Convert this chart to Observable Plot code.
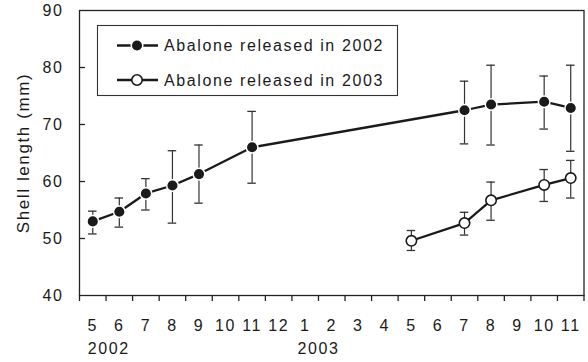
<!DOCTYPE html>
<html>
<head>
<meta charset="utf-8">
<script src="https://cdn.jsdelivr.net/npm/d3@7"></script>
<script src="https://cdn.jsdelivr.net/npm/@observablehq/plot@0.6"></script>
<style>
  body { margin: 0; background: #fff; }
  #chart svg { display: block; }
</style>
</head>
<body>
<div id="chart"></div>
<script>
// Month tick labels, May 2002 through November 2003
const monthLabels = ["5","6","7","8","9","10","11","12","1","2","3","4","5","6","7","8","9","10","11"];
const yearLabels = ["2002", "2003"];
const seriesNames = ["Abalone released in 2002", "Abalone released in 2003"];

// Abalone released in 2002: sampling dates, mean shell length and error bar ends (mm)
const dates2002 = ["2002-05","2002-06","2002-07","2002-08","2002-09","2002-11","2003-07","2003-08","2003-10","2003-11"];
const mean2002  = [53.0, 54.7, 57.9, 59.3, 61.3, 66.0, 72.5, 73.5, 74.0, 72.9];
const upper2002 = [54.8, 57.1, 60.5, 65.4, 66.4, 72.3, 77.6, 80.4, 78.5, 80.4];
const lower2002 = [50.8, 52.0, 55.0, 52.7, 56.2, 59.7, 66.6, 66.4, 69.2, 65.3];

// Abalone released in 2003
const dates2003 = ["2003-05","2003-07","2003-08","2003-10","2003-11"];
const mean2003  = [49.6, 52.7, 56.7, 59.4, 60.6];
const upper2003 = [51.4, 54.6, 59.9, 62.1, 63.7];
const lower2003 = [47.9, 50.6, 53.2, 56.5, 57.1];

// Month index counted from May 2002 (= 0)
const monthIndex = s => {
  const [y, m] = s.split("-").map(Number);
  return (y - 2002) * 12 + (m - 5);
};

const toRows = (dates, mean, upper, lower) =>
  dates.map((d, i) => ({m: monthIndex(d), mean: mean[i], hi: upper[i], lo: lower[i]}));

const rows2002 = toRows(dates2002, mean2002, upper2002, lower2002);
const rows2003 = toRows(dates2003, mean2003, upper2003, lower2003);
const allRows = rows2002.concat(rows2003);

const W = 588, H = 362, mL = 79, mR = 4.5, mT = 10, mB = 67;
const innerW = W - mL - mR;
const monthCenters = d3.range(monthLabels.length);
const monthBounds = d3.range(-0.5, monthLabels.length, 1);
const capHalf = 0.16;
const ink = "#1a1a1a";
const font = "'Liberation Sans', Arial, Helvetica, sans-serif";

const chart = Plot.plot({
  width: W,
  height: H,
  marginLeft: mL,
  marginRight: mR,
  marginTop: mT,
  marginBottom: mB,
  style: {fontFamily: font, letterSpacing: "1.6px", color: ink, background: "#fff"},
  x: {domain: [-0.5, monthLabels.length - 0.5], label: null},
  y: {domain: [40, 90], label: null},
  marks: [
    Plot.frame({stroke: "#222", strokeWidth: 1.3}),
    // outward tick marks on the month boundaries
    Plot.axisX({ticks: monthBounds, tickSize: 6, tickFormat: () => "", label: null, stroke: "#222", strokeWidth: 1.3}),
    // month labels centred in each month
    Plot.axisX({ticks: monthCenters, tickSize: 0, tickPadding: 24, tickFormat: i => monthLabels[i], label: null, fontSize: 16, fill: ink}),
    // year labels
    Plot.text([yearLabels[0]], {x: monthIndex("2002-05"), frameAnchor: "bottom", lineAnchor: "top", textAnchor: "start", dx: -5, dy: 47, fontSize: 16, fill: ink}),
    Plot.text([yearLabels[1]], {x: monthIndex("2003-01") + 0.5, frameAnchor: "bottom", lineAnchor: "top", textAnchor: "middle", dy: 47, fontSize: 16, fill: ink}),
    // inward y ticks and labels
    Plot.tickY([50, 60, 70, 80], {y: d => d, insetRight: innerW - 6, stroke: "#222", strokeWidth: 1.3}),
    Plot.axisY({ticks: [40, 50, 60, 70, 80, 90], tickSize: 0, tickPadding: 16, label: null, fontSize: 16, fill: ink}),
    Plot.text(["Shell length (mm)"], {frameAnchor: "left", rotate: -90, dx: -56, lineAnchor: "middle", textAnchor: "middle", fontSize: 17, fill: ink}),
    // error bars with caps
    Plot.ruleX(allRows, {x: "m", y1: "lo", y2: "hi", stroke: "#333", strokeWidth: 1.2}),
    Plot.ruleY(allRows, {y: "hi", x1: d => d.m - capHalf, x2: d => d.m + capHalf, stroke: "#333", strokeWidth: 1.3}),
    Plot.ruleY(allRows, {y: "lo", x1: d => d.m - capHalf, x2: d => d.m + capHalf, stroke: "#333", strokeWidth: 1.3}),
    // series lines
    Plot.line(rows2002, {x: "m", y: "mean", stroke: ink, strokeWidth: 2.3}),
    Plot.line(rows2003, {x: "m", y: "mean", stroke: ink, strokeWidth: 2.3}),
    // markers
    Plot.dot(rows2002, {x: "m", y: "mean", r: 5.8, fill: ink, stroke: "#fff", strokeWidth: 1.5}),
    Plot.dot(rows2003, {x: "m", y: "mean", r: 5.2, fill: "#fff", stroke: ink, strokeWidth: 1.6})
  ]
});

// Legend box in the upper-left corner of the plot area
const svg = d3.select(chart);
const lg = svg.append("g")
  .attr("font-family", font)
  .attr("font-size", 16)
  .attr("text-anchor", "start")
  .style("letter-spacing", "1.6px");
lg.append("rect").attr("x", 97.5).attr("y", 25.5).attr("width", 300).attr("height", 70)
  .attr("fill", "#fff").attr("stroke", "#333").attr("stroke-width", 1.1);
const rowsY = [45.5, 80];
seriesNames.forEach((name, i) => {
  const y = rowsY[i];
  lg.append("line").attr("x1", 117).attr("x2", 158).attr("y1", y).attr("y2", y)
    .attr("stroke", ink).attr("stroke-width", 2.3);
  if (i === 0) {
    lg.append("circle").attr("cx", 137).attr("cy", y).attr("r", 5.8)
      .attr("fill", ink).attr("stroke", "#fff").attr("stroke-width", 1.5);
  } else {
    lg.append("circle").attr("cx", 137).attr("cy", y).attr("r", 5.2)
      .attr("fill", "#fff").attr("stroke", ink).attr("stroke-width", 1.6);
  }
  lg.append("text").attr("x", 164).attr("y", y + 5.6).attr("fill", ink)
    .attr("text-anchor", "start").text(name);
});

document.getElementById("chart").append(chart);
</script>
</body>
</html>
